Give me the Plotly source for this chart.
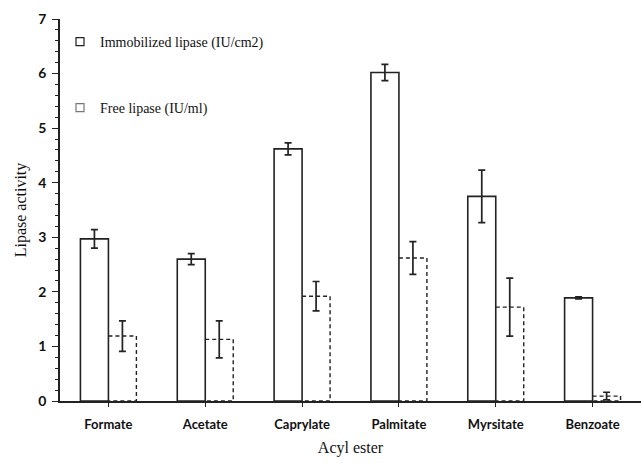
import plotly.graph_objects as go

categories = ["Formate", "Acetate", "Caprylate", "Palmitate", "Myrsitate", "Benzoate"]
immobilized = [2.97, 2.60, 4.62, 6.02, 3.75, 1.89]
immobilized_err = [0.17, 0.10, 0.11, 0.15, 0.48, 0.02]
free = [1.19, 1.13, 1.92, 2.62, 1.72, 0.09]
free_err = [0.28, 0.34, 0.27, 0.30, 0.53, 0.07]

W = 0.289
LINE = "#222222"
idx = list(range(len(categories)))

fig = go.Figure()
fig.add_trace(go.Bar(
    x=[i - W / 2 for i in idx], y=immobilized, width=W,
    marker=dict(color="white", line=dict(color=LINE, width=1.6)),
    error_y=dict(type="data", array=immobilized_err, color=LINE, thickness=1.7, width=3.5),
    showlegend=False, hoverinfo="y"))
fig.add_trace(go.Bar(
    x=[i + W / 2 for i in idx], y=free, width=W,
    marker=dict(color="rgba(0,0,0,0)", line=dict(width=0)),
    error_y=dict(type="data", array=free_err, color=LINE, thickness=1.7, width=3.5),
    showlegend=False, hoverinfo="y"))

xs, ys = [], []
for i, v in zip(idx, free):
    xs += [i, i + W, i + W, i, None]
    ys += [v, v, 0, 0, None]
fig.add_trace(go.Scatter(x=xs, y=ys, mode="lines",
                         line=dict(color=LINE, width=1.4, dash="4px,3px"),
                         showlegend=False, hoverinfo="skip"))

fig.add_trace(go.Scatter(x=[None], y=[None], mode="markers", name="Immobilized lipase (IU/cm2)",
                         marker=dict(symbol="square-open", size=8, color=LINE, line=dict(width=1.2)),
                         legend="legend"))
fig.add_trace(go.Scatter(x=[None], y=[None], mode="markers", name="Free lipase (IU/ml)",
                         marker=dict(symbol="square-open", size=8, color="#777777", line=dict(width=1.2)),
                         legend="legend2"))

legfont = dict(family="Liberation Serif", size=14, color="#111")
fig.update_layout(
    width=641, height=463,
    margin=dict(l=60, r=0, t=19, b=62),
    paper_bgcolor="white", plot_bgcolor="white",
    barmode="overlay",
    legend=dict(x=0.0, xanchor="left", y=(401 - 42) / 382, yanchor="middle",
                font=legfont, bgcolor="rgba(0,0,0,0)"),
    legend2=dict(x=0.0, xanchor="left", y=(401 - 108) / 382, yanchor="middle",
                 font=legfont, bgcolor="rgba(0,0,0,0)"),
    xaxis=dict(range=[-0.5, 5.5], tickmode="array", tickvals=idx, ticktext=categories,
               showline=True, linecolor=LINE, linewidth=1.6, ticks="outside", ticklen=4,
               tickcolor=LINE, tickwidth=1.3, showgrid=False, zeroline=False,
               tickfont=dict(family="Lato", size=13, color="#111", weight="bold"),
               ticklabelstandoff=7, automargin=False,
               title=dict(text="Acyl ester", font=dict(family="Liberation Serif", size=16, color="#111"),
                          standoff=10)),
    yaxis=dict(range=[0, 7], tickmode="linear", dtick=1, tick0=0,
               showline=True, linecolor=LINE, linewidth=1.6, ticks="outside", ticklen=6,
               tickcolor=LINE, tickwidth=1.3, showgrid=False, zeroline=False,
               minor=dict(dtick=0.2, ticks="outside", ticklen=3, tickcolor=LINE, tickwidth=1.1),
               tickfont=dict(family="Lato", size=14, color="#111", weight="bold"),
               ticklabelstandoff=3, automargin=False,
               title=dict(text="Lipase activity", font=dict(family="Liberation Serif", size=16, color="#111"),
                          standoff=8)),
)
fig.write_html("out.html")
